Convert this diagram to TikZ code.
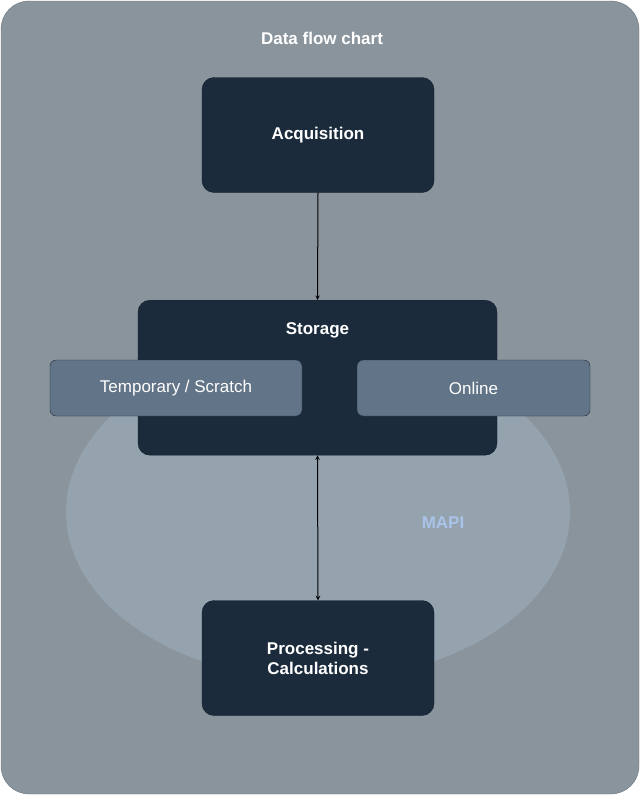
\documentclass[tikz,border=0pt]{standalone}
\usepackage{fontspec}
\setmainfont{Liberation Sans}
\begin{document}
\begin{tikzpicture}[x=1pt,y=-1pt,
 dark/.style={fill=boxc,draw=boxc!70!black,rounded corners=12pt,text=white,font=\bfseries\fontsize{17}{20}\selectfont,align=center},
 sub/.style={fill=subc,draw=boxc,rounded corners=6pt,text=white,font=\fontsize{17}{20}\selectfont},
 arr/.style={<->,>=stealth,line width=1pt}]
\definecolor{bgc}{HTML}{8A949C}
\definecolor{elc}{HTML}{95A3AF}
\definecolor{boxc}{HTML}{1B2B3C}
\definecolor{subc}{HTML}{627487}
\definecolor{mapic}{HTML}{A9C4E8}
\useasboundingbox (0,0) rectangle (640,795);
\fill[bgc,draw=bgc!80!black,rounded corners=28pt] (1,1) rectangle (639,794);
\fill[elc] (318,512) ellipse [x radius=252pt,y radius=168pt];
\node[text=white,font=\bfseries\fontsize{17}{20}\selectfont] (title) at (322,38) {Data flow chart};
\node[dark,minimum width=232pt,minimum height=115pt] (acq) at (318,135) {Acquisition};
\node[dark,minimum width=359pt,minimum height=155pt,anchor=north] (sto) at (317.5,300) {};
\node[text=white,font=\bfseries\fontsize{17}{20}\selectfont] (stol) at (317.5,330) {Storage};
\node[sub,minimum width=252pt,minimum height=56pt] (tmp) at (176,388) {Temporary / Scratch};
\node[sub,minimum width=233pt,minimum height=56pt] (onl) at (473.5,388) {Online};
\node[text=mapic,font=\bfseries\fontsize{17}{20}\selectfont] (mapi) at (443,523) {MAPI};
\node[dark,minimum width=232pt,minimum height=115pt] (proc) at (318,658) {Processing -\\Calculations};
\draw[-stealth,line width=1pt] (acq.south) -- (sto.north);
\draw[stealth-stealth,line width=1pt] (sto.south) -- (proc.north);
\end{tikzpicture}
\end{document}
